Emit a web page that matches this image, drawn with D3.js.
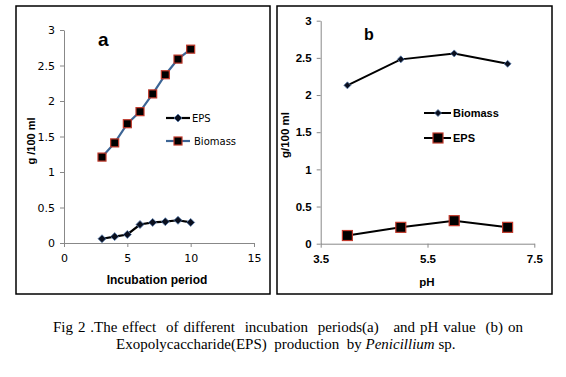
<!DOCTYPE html>
<html><head><meta charset="utf-8">
<script src="https://cdn.jsdelivr.net/npm/d3@7"></script>
<style>body{margin:0;background:#fff}svg{display:block}</style>
</head><body>
<svg id="c" width="566" height="377"></svg>
<script>
// Panel a: incubation period
const incubation = [3,4,5,6,7,8,9,10];
const epsA = [0.06,0.09,0.12,0.26,0.29,0.30,0.32,0.29];
const biomassA = [1.21,1.41,1.68,1.85,2.10,2.37,2.59,2.73];
const xTicksA = [0,5,10,15];
const yTicks = [0,0.5,1,1.5,2,2.5,3];
// Panel b: pH
const pH = [4,5,6,7];
const biomassB = [2.13,2.48,2.56,2.42];
const epsB = [0.11,0.22,0.31,0.22];
const xTicksB = [3.5,5.5,7.5];

const svg = d3.select('#c');
// frames
svg.append('rect').attr('x',16).attr('y',6).attr('width',254).attr('height',288).attr('fill','none').attr('stroke','#000').attr('stroke-width',1.5);
svg.append('rect').attr('x',277).attr('y',6).attr('width',275).attr('height',288).attr('fill','none').attr('stroke','#000').attr('stroke-width',1.5);

function axes(g, x, y, xt, yt, font, weight, size){
  const ya = g.append('g').attr('transform',`translate(${x.range()[0]},0)`)
    .call(d3.axisLeft(y).tickValues(yt).tickSize(4).tickSizeOuter(0).tickPadding(5).tickFormat(d3.format('')));
  const xa = g.append('g').attr('transform',`translate(0,${y.range()[0]})`)
    .call(d3.axisBottom(x).tickValues(xt).tickSize(4).tickSizeOuter(0).tickPadding(7).tickFormat(d3.format('')));
  [ya,xa].forEach(a=>{
    a.select('.domain').attr('stroke','#888');
    a.selectAll('.tick line').attr('stroke','#888');
    a.selectAll('text').attr('font-family',font).attr('font-weight',weight).attr('font-size',size).attr('fill','#000');
  });
}
function diamond(g, cx, cy, r, fill, stroke){
  g.append('path').attr('d',`M${cx},${cy-r}L${cx+r},${cy}L${cx},${cy+r}L${cx-r},${cy}Z`)
    .attr('fill',fill).attr('stroke',stroke).attr('stroke-width',0.8);
}
function square(g, cx, cy, r, fill, stroke){
  g.append('rect').attr('x',cx-r).attr('y',cy-r).attr('width',2*r).attr('height',2*r)
    .attr('fill',fill).attr('stroke',stroke).attr('stroke-width',1.2);
}

// ---- Panel a ----
{
  const g = svg.append('g');
  const x = d3.scaleLinear().domain([0,15]).range([64,254]);
  const y = d3.scaleLinear().domain([0,3]).range([243,30]);
  axes(g,x,y,xTicksA,yTicks,'DejaVu Sans','normal','11px');
  const line = d3.line().x(d=>x(d[0])).y(d=>y(d[1]));
  const bio = incubation.map((d,i)=>[d,biomassA[i]]);
  const eps = incubation.map((d,i)=>[d,epsA[i]]);
  g.append('path').attr('d',line(bio)).attr('fill','none').attr('stroke','#3d6595').attr('stroke-width',2.2);
  g.append('path').attr('d',line(eps)).attr('fill','none').attr('stroke','#000').attr('stroke-width',2.2);
  bio.forEach(d=>square(g,x(d[0]),y(d[1]),4,'#000','#c0392b'));
  eps.forEach(d=>diamond(g,x(d[0]),y(d[1]),4,'#0a0f1e','#5a7fb0'));
  g.append('text').attr('x',98).attr('y',46).text('a').attr('font-family','Liberation Sans').attr('font-weight','bold').attr('font-size','19px');
  g.append('text').attr('x',157).attr('y',284).attr('text-anchor','middle').text('Incubation period')
    .attr('font-family','Liberation Sans').attr('font-weight','bold').attr('font-size','12px');
  g.append('text').attr('transform','translate(35,141) rotate(-90)').attr('text-anchor','middle').text('g /100 ml')
    .attr('font-family','Liberation Sans').attr('font-weight','bold').attr('font-size','11px');
  // legend
  g.append('line').attr('x1',166).attr('x2',190).attr('y1',118).attr('y2',118).attr('stroke','#000').attr('stroke-width',2.2);
  diamond(g,178,118,4,'#0a0f1e','#5a7fb0');
  g.append('text').attr('x',192).attr('y',122).text('EPS').attr('font-family','DejaVu Sans').attr('font-size','10px');
  g.append('line').attr('x1',166).attr('x2',190).attr('y1',141).attr('y2',141).attr('stroke','#3d6595').attr('stroke-width',2.2);
  square(g,178,141,4,'#000','#c0392b');
  g.append('text').attr('x',194).attr('y',145).text('Biomass').attr('font-family','DejaVu Sans').attr('font-size','10px');
}

// ---- Panel b ----
{
  const g = svg.append('g');
  const x = d3.scaleLinear().domain([3.5,7.5]).range([320.7,534.3]);
  const y = d3.scaleLinear().domain([0,3]).range([243.7,20.7]);
  axes(g,x,y,xTicksB,yTicks,'Liberation Sans','bold','11.5px');
  const line = d3.line().x(d=>x(d[0])).y(d=>y(d[1]));
  const bio = pH.map((d,i)=>[d,biomassB[i]]);
  const eps = pH.map((d,i)=>[d,epsB[i]]);
  g.append('path').attr('d',line(bio)).attr('fill','none').attr('stroke','#000').attr('stroke-width',2);
  g.append('path').attr('d',line(eps)).attr('fill','none').attr('stroke','#000').attr('stroke-width',2);
  bio.forEach(d=>diamond(g,x(d[0]),y(d[1]),3.5,'#0a0f1e','#5a7fb0'));
  eps.forEach(d=>square(g,x(d[0]),y(d[1]),5,'#000','#c0392b'));
  g.append('text').attr('x',364).attr('y',40).text('b').attr('font-family','Liberation Sans').attr('font-weight','bold').attr('font-size','16px');
  g.append('text').attr('x',427).attr('y',286).attr('text-anchor','middle').text('pH')
    .attr('font-family','Liberation Sans').attr('font-weight','bold').attr('font-size','11.5px');
  g.append('text').attr('transform','translate(289,135) rotate(-90)').attr('text-anchor','middle').text('g/100 ml')
    .attr('font-family','Liberation Sans').attr('font-weight','bold').attr('font-size','11.5px');
  g.append('line').attr('x1',424).attr('x2',451).attr('y1',113).attr('y2',113).attr('stroke','#000').attr('stroke-width',2);
  diamond(g,438,113,3.5,'#0a0f1e','#5a7fb0');
  g.append('text').attr('x',453).attr('y',117).text('Biomass').attr('font-family','Liberation Sans').attr('font-weight','bold').attr('font-size','11px');
  g.append('line').attr('x1',424).attr('x2',451).attr('y1',138).attr('y2',138).attr('stroke','#000').attr('stroke-width',2);
  square(g,438,138,5,'#000','#c0392b');
  g.append('text').attr('x',453).attr('y',142).text('EPS').attr('font-family','Liberation Sans').attr('font-weight','bold').attr('font-size','11px');
}

// ---- Caption ----
function fit(t, target){
  const w = t.node().getComputedTextLength();
  const s = (t.text().match(/ /g)||[]).length;
  if (s>0 && w<target) t.attr('word-spacing',((target-w)/s).toFixed(2)+'px');
}
const cap1 = svg.append('text').attr('x',53).attr('y',332).attr('font-family','Liberation Serif').attr('font-size','15px')
  .style('white-space','pre')
  .text('Fig 2 .The effect  of different  incubation  periods(a)   and pH value  (b) on');
fit(cap1,470);
const cap2 = svg.append('text').attr('x',116).attr('y',349).attr('font-family','Liberation Serif').attr('font-size','15px')
  .style('white-space','pre');
cap2.append('tspan').text('Exopolycaccharide(EPS)  production  by ');
cap2.append('tspan').attr('font-style','italic').text('Penicillium');
cap2.append('tspan').text(' sp.');
fit(cap2,331);
</script>
</body></html>
